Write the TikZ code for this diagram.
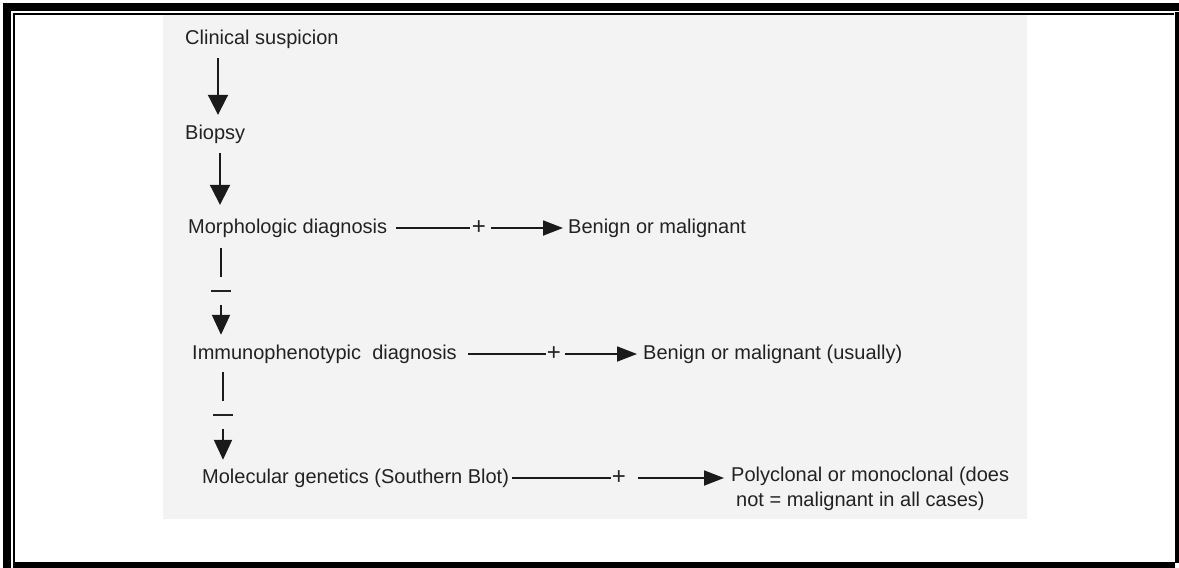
\documentclass[tikz,border=0pt]{standalone}
\usepackage{fontspec}
\setmainfont{Liberation Sans}
\usetikzlibrary{arrows.meta}
\definecolor{txt}{HTML}{222222}
\definecolor{ink}{HTML}{1A1A1A}
\definecolor{paper}{HTML}{F3F3F3}
\begin{document}
\begin{tikzpicture}[x=1pt,y=-1pt,
  lbl/.style={anchor=base west,inner sep=0pt,text=txt,font=\fontsize{20}{24}\selectfont,text height=15pt,text depth=5pt},
  plus/.style={inner sep=0pt,text=txt,font=\fontsize{24}{28}\selectfont},
  minus/.style={inner xsep=0pt,inner ysep=12.5pt,text=txt},
  vline/.style={draw=ink,line width=2pt},
  varrow/.style={draw=ink,line width=2pt,-{Triangle[length=20pt,width=20pt]}},
  varrowS/.style={draw=ink,line width=2pt,-{Triangle[length=20pt,width=18pt]}},
  hline/.style={draw=ink,line width=1.8pt},
  harrow/.style={draw=ink,line width=1.8pt,-{Triangle[length=20pt,width=15pt]}}]
\useasboundingbox (0,0) rectangle (1179,568);
% frame
\fill[white] (0,0) rectangle (1179,568);
\fill[paper] (163,15) rectangle (1027,519);
\fill[black] (3,3) rectangle (11,568);
\fill[black] (3,3) rectangle (1179,11);
\fill[black] (13,13) rectangle (15,562);
\fill[black] (13,13) rectangle (1174,15);
\fill[black] (1175,12) rectangle (1179,563);
\fill[black] (13,562) rectangle (1175,568);
% spine x positions
\coordinate (x1) at (218,0);
\coordinate (x2) at (220,0);
\coordinate (px1) at (479,0);
\coordinate (px2) at (554,0);
\coordinate (px3) at (619,0);
% nodes
\node[lbl] (clin) at (185,44) {Clinical suspicion};
\node[lbl] (bio) at (185,139) {Biopsy};
\node[lbl] (morph) at (188,233) {Morphologic diagnosis};
\node[lbl] (ben1) at (568,233) {Benign or malignant};
\node[lbl] (immuno) at (192,359) {Immunophenotypic\ \ diagnosis};
\node[lbl] (ben2) at (643,359) {Benign or malignant (usually)};
\node[lbl] (mol) at (202,483) {Molecular genetics (Southern Blot)};
\node[lbl] (poly) at (731,481) {Polyclonal or monoclonal (does};
\node[lbl] (poly2) at (736,506) {not = malignant in all cases)};
\node[plus] (p1) at (morph.east -| px1) {+};
\node[plus] (p2) at (immuno.east -| px2) {+};
\node[plus] (p3) at (mol.east -| px3) {+};
\node[minus] (m1) at (221,291) {\rule{20pt}{2pt}};
\node[minus] (m2) at (223,415) {\rule{20pt}{2pt}};
% vertical connectors
\draw[varrow,shorten <=9pt,shorten >=9pt] (clin.south -| x1) -- (bio.north -| x1);
\draw[varrow,shorten <=9pt,shorten >=13pt] (bio.south -| x2) -- (morph.north -| x2);
\draw[vline,shorten <=10pt] (morph.south -| m1) -- (m1.north);
\draw[varrowS,shorten >=9pt] (m1.south) -- (immuno.north -| m1);
\draw[vline,shorten <=8pt] (immuno.south -| m2) -- (m2.north);
\draw[varrowS,shorten >=8pt] (m2.south) -- (mol.north -| m2);
% horizontal connectors
\draw[hline,shorten <=9pt,shorten >=2pt] (morph.east) -- (p1.west);
\draw[harrow,shorten <=5pt,shorten >=5pt] (p1.east) -- (ben1.west);
\draw[hline,shorten <=11pt,shorten >=1pt] (immuno.east) -- (p2.west);
\draw[harrow,shorten <=4pt,shorten >=6pt] (p2.east) -- (ben2.west);
\draw[hline,shorten <=3pt,shorten >=1pt] (mol.east) -- (p3.west);
\draw[harrow,shorten <=12pt,shorten >=7pt] (p3.east) -- (poly.west |- p3.east);
\end{tikzpicture}
\end{document}
